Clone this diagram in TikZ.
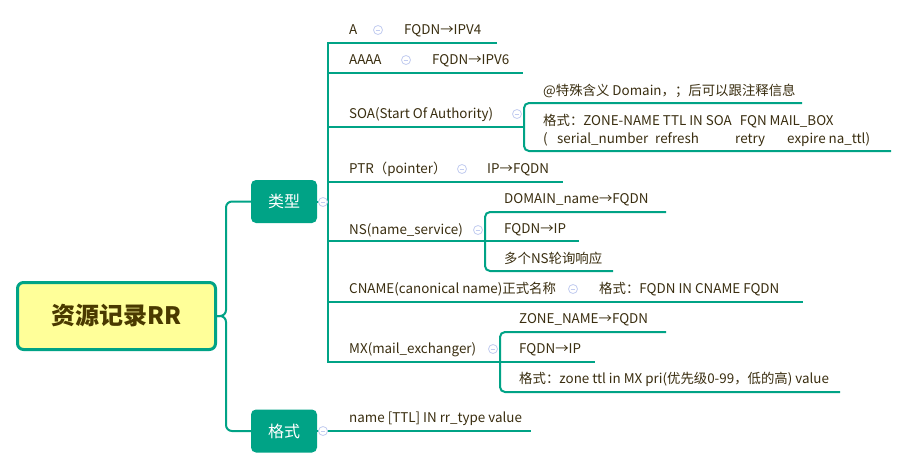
\documentclass[tikz,border=0pt]{standalone}
\usepackage{fontspec}
\setmainfont{Noto Sans CJK SC}
\definecolor{mmteal}{HTML}{00A386}
\definecolor{rootfill}{HTML}{FFFF99}
\definecolor{roottext}{HTML}{4A3A00}
\definecolor{txt}{HTML}{3A2E10}
\definecolor{iconc}{HTML}{C2CCF0}
\tikzset{
  conn/.style={draw=mmteal, line width=2pt},
  rootbox/.style={draw=mmteal, line width=3pt, fill=rootfill, rounded corners=6pt,
    minimum width=198pt, minimum height=67pt, inner sep=0pt,
    font=\fontsize{24}{28}\selectfont\bfseries, text=roottext},
  lvl/.style={fill=mmteal, rounded corners=5pt, minimum width=66pt, minimum height=43pt,
    inner sep=0pt, text=white, font=\fontsize{16}{18}\selectfont},
  lab/.style={anchor=west, inner sep=0pt, text=txt, font=\fontsize{13.4}{15}\selectfont,
    text height=10pt, text depth=3.5pt, yshift=-1.5pt},
  icon/.style={circle, draw=iconc, fill=white, line width=0.8pt, minimum size=9pt, inner sep=0pt,
    path picture={\draw[iconc, line width=0.8pt] ([xshift=-2.3pt]path picture bounding box.center) -- ([xshift=2.3pt]path picture bounding box.center);}}
}
\begin{document}
\begin{tikzpicture}[x=1pt,y=-1pt]
\useasboundingbox[fill=white] (0,0) rectangle (908,469);

% root and level 1
\node[rootbox] (root) at (116.5,316) {资源记录RR};
\node[lvl] (lx) at (284,201.5) {类型};
\node[lvl] (gs) at (284,431) {格式};
\draw[conn, rounded corners=6pt] (root.east) -- (226,316) |- (lx.west);
\draw[conn, rounded corners=6pt] (root.east) -- (226,316) |- (gs.west);

% trunk of 类型
\coordinate (tTop) at (328,43);
\coordinate (tBot) at (328,362);
\draw[conn] (lx.east) -- (lx.east -| tTop);
\draw[conn] (497,43) -- (tTop) -- (tBot) -- (595,362);
\coordinate (uAAAA) at (523,73);
\draw[conn] (uAAAA -| tTop) -- (uAAAA);
\coordinate (uSOA) at (524,127);
\draw[conn] (uSOA -| tTop) -- (uSOA);
\coordinate (uPTR) at (563,182);
\draw[conn] (uPTR -| tTop) -- (uPTR);
\coordinate (uNS) at (579,241);
\draw[conn] (uNS -| tTop) -- (uNS);
\coordinate (uCN) at (803,302);
\draw[conn] (uCN -| tTop) -- (uCN);

% brackets
\draw[conn, rounded corners=5pt] (802,103) -- (524,103) -- (524,151) -- (891,151);
\draw[conn, rounded corners=5pt] (666,212) -- (485,212) -- (485,271) -- (613,271);
\draw[conn, rounded corners=5pt] (666,332) -- (500,332) -- (500,392) -- (840,392);

% 格式 line
\coordinate (uGS) at (531,431);
\draw[conn] (gs.east) -- (uGS);

% icons
\node[icon] (i0) at (323,202) {};
\node[icon] (i9) at (323,431) {};
\node[icon] (i1) at (378,30) {};
\node[icon] (i2) at (406,60) {};
\node[icon] (i3) at (517,114) {};
\node[icon] (i4) at (462,169) {};
\node[icon] (i5) at (478,230) {};
\node[icon] (i6) at (573,289) {};
\node[icon] (i7) at (493,349) {};

% labels
\node[lab] (tA) at (349,30) {A};
\node[lab] (tA1) at (404,30) {FQDN→IPV4};
\node[lab] (tAAAA) at (349,60) {AAAA};
\node[lab] (tA2) at (432,60) {FQDN→IPV6};
\node[lab] (tSOA) at (349,114) {SOA(Start Of Authority)};
\node[lab] (tS1) at (543,91) {@特殊含义 Domain，；后可以跟注释信息};
\node[lab] (tS2) at (543,121) {格式：ZONE-NAME TTL IN SOA\hspace{5pt} FQN MAIL\_BOX};
\node[lab] (tS3a) at (543,139) {(};
\node[lab] (tS3b) at (557,139) {serial\_number};
\node[lab] (tS3c) at (655,139) {refresh};
\node[lab] (tS3d) at (735,139) {retry};
\node[lab] (tS3e) at (787,139) {expire na\_ttl)};
\node[lab] (tPTR) at (349,169) {PTR（pointer）};
\node[lab] (tP1) at (487,169) {IP→FQDN};
\node[lab] (tNS) at (349,230) {NS(name\_service)};
\node[lab] (tN1) at (504,199) {DOMAIN\_name→FQDN};
\node[lab] (tN2) at (504,229) {FQDN→IP};
\node[lab] (tN3) at (504,259) {多个NS轮询响应};
\node[lab] (tCN) at (349,289) {CNAME(canonical name)正式名称};
\node[lab] (tC1) at (599,289) {格式：FQDN IN CNAME FQDN};
\node[lab] (tMX) at (349,349) {MX(mail\_exchanger)};
\node[lab] (tM1) at (519,319) {ZONE\_NAME→FQDN};
\node[lab] (tM2) at (519,349) {FQDN→IP};
\node[lab] (tM3) at (519,379) {格式：zone ttl in MX pri(优先级0-99，低的高) value};
\node[lab] (tG1) at (349,418) {name [TTL] IN rr\_type value};
\end{tikzpicture}
\end{document}
